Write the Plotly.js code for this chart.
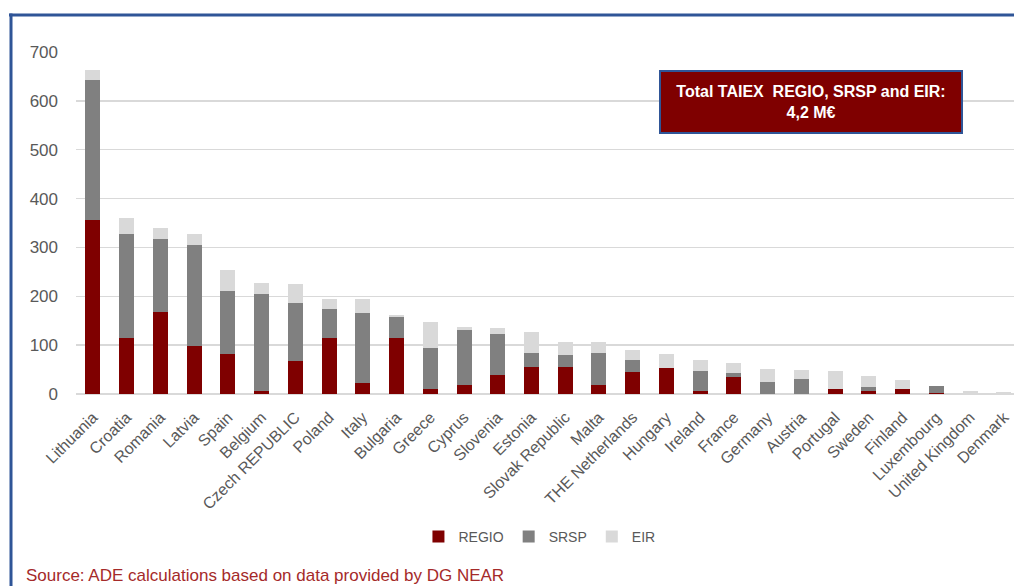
<!DOCTYPE html>
<html>
<head>
<meta charset="utf-8">
<script src="https://cdn.plot.ly/plotly-3.0.1.min.js"></script>
<style>
html,body{margin:0;padding:0;background:#fff;overflow:hidden;}
#chart{width:1014px;height:586px;}
</style>
</head>
<body>
<div id="chart"></div>
<script>
const countries = ["Lithuania","Croatia","Romania","Latvia","Spain","Belgium","Czech REPUBLIC","Poland","Italy","Bulgaria","Greece","Cyprus","Slovenia","Estonia","Slovak Republic","Malta","THE Netherlands","Hungary","Ireland","France","Germany","Austria","Portugal","Sweden","Finland","Luxembourg","United Kingdom","Denmark"];
const regio = [356,114,168,98,82,6,67,114,22,115,10,18,39,56,56,18,46,53,7,35,0,0,10,7,10,3,0,0];
const srsp  = [286,214,150,208,129,199,119,60,143,42,84,113,84,27,23,65,23,0,40,8,24,30,0,7,0,13,0,0];
const eir   = [21,32,21,22,42,23,39,20,29,5,54,6,12,44,27,23,22,29,23,21,27,19,37,23,18,0,7,5];
const seriesNames = ["REGIO","SRSP","EIR"];
const seriesColors = ["#7F0000","#808080","#D9D9D9"];
const boxText = "<b>Total TAIEX&nbsp; REGIO, SRSP and EIR:<br>4,2 M€</b>";
const sourceText = "Source: ADE calculations based on data provided by DG NEAR";

const W = 1014, H = 586;
const M = {l:76, r:0, t:52, b:192};
const pw = W - M.l - M.r, ph = H - M.t - M.b;
const px = x => (x - M.l) / pw;
const py = y => (H - M.b - y) / ph;

const font = "'Liberation Sans', Arial, sans-serif";
const traces = [regio, srsp, eir].map((vals, i) => ({
  type: "bar",
  name: seriesNames[i],
  x: countries,
  y: vals,
  width: 0.445,
  marker: {color: seriesColors[i], line: {width: 0}},
  hoverinfo: "x+y+name"
}));

const layout = {
  width: W, height: H,
  margin: M,
  barmode: "stack",
  paper_bgcolor: "#fff",
  plot_bgcolor: "#fff",
  font: {family: font, color: "#595959", size: 14},
  showlegend: true,
  legend: {
    orientation: "h",
    xref: "container", yref: "container",
    x: 0.532, xanchor: "center",
    y: 1 - 537/586, yanchor: "middle",
    font: {size: 14, color: "#595959"},
    itemwidth: 30,
    traceorder: "normal"
  },
  xaxis: {
    type: "category",
    range: [-0.5, 27.3],
    tickangle: -45,
    tickfont: {size: 16, color: "#595959"},
    ticklabelstandoff: 10,
    showgrid: false,
    showline: false,
    ticks: "",
    fixedrange: true
  },
  yaxis: {
    range: [0, 700],
    dtick: 100,
    tickfont: {size: 17, color: "#595959"},
    gridcolor: "#D9D9D9",
    gridwidth: 1.5,
    zeroline: true,
    zerolinecolor: "#D9D9D9",
    zerolinewidth: 1.5,
    ticklabelstandoff: 17,
    showline: false,
    ticks: "",
    fixedrange: true
  },
  shapes: [
    {type: "line", xref: "paper", yref: "paper", x0: px(9), x1: px(1014), y0: py(15), y1: py(15), line: {color: "#2F5597", width: 3}},
    {type: "line", xref: "paper", yref: "paper", x0: px(11), x1: px(11), y0: py(13.5), y1: py(586), line: {color: "#2F5597", width: 3}}
  ],
  annotations: [
    {
      xref: "paper", yref: "paper",
      x: px(811), y: py(102), xanchor: "center", yanchor: "middle",
      text: boxText, showarrow: false,
      width: 298, height: 58,
      bgcolor: "#7F0000", bordercolor: "#2F5597", borderwidth: 2,
      font: {family: font, size: 16, color: "#ffffff"},
      align: "center"
    },
    {
      xref: "paper", yref: "paper",
      x: px(24), y: py(575), xanchor: "left", yanchor: "middle",
      text: sourceText, showarrow: false,
      font: {family: font, size: 17, color: "#A52A2A"}
    }
  ]
};

Plotly.newPlot("chart", traces, layout, {displayModeBar: false, staticPlot: true});
</script>
</body>
</html>
